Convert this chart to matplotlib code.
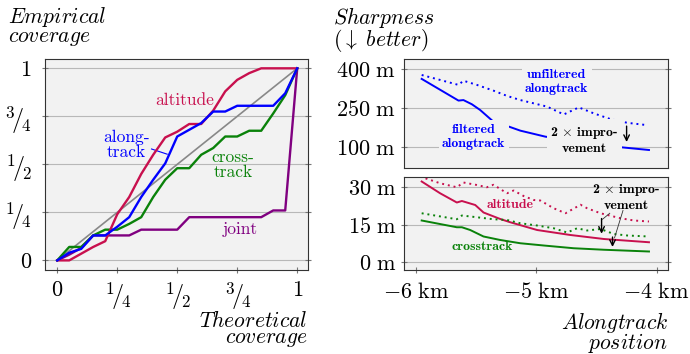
import numpy as np
import matplotlib
matplotlib.use('Agg')
import matplotlib.pyplot as plt

plt.rcParams['mathtext.fontset'] = 'cm'
plt.rcParams['font.family'] = ['cmr10', 'DejaVu Serif']
plt.rcParams['axes.unicode_minus'] = False

# ---- calibration data (left) ----
theo = np.round(np.arange(0, 1.0001, 0.05), 2)
cov_altitude = [0, 0, 0.035, 0.07, 0.10, 0.24, 0.33, 0.45, 0.55, 0.64, 0.67,
                0.71, 0.71, 0.78, 0.88, 0.94, 0.975, 1, 1, 1, 1]
cov_along = [0, 0.04, 0.06, 0.13, 0.13, 0.175, 0.225, 0.33, 0.42, 0.505, 0.645,
             0.68, 0.715, 0.775, 0.775, 0.805, 0.805, 0.805, 0.805, 0.87, 1]
cov_cross = [0, 0.07, 0.07, 0.13, 0.16, 0.16, 0.19, 0.225, 0.33, 0.42, 0.48,
             0.48, 0.55, 0.585, 0.645, 0.645, 0.675, 0.675, 0.765, 0.86, 1]
cov_joint = [0, 0.03, 0.065, 0.13, 0.13, 0.13, 0.13, 0.16, 0.16, 0.16, 0.16,
             0.225, 0.225, 0.225, 0.225, 0.225, 0.225, 0.225, 0.26, 0.26, 1]
frac_ticks = [0, 0.25, 0.5, 0.75, 1]
frac_labels = ['$0$', r'${}^{1}\!/\!{}_{4}$', r'${}^{1}\!/\!{}_{2}$',
               r'${}^{3}\!/\!{}_{4}$', '$1$']

# ---- sharpness, along-track (top right) ----
x_unf_along = [-5.953, -5.647, -5.606, -5.494, -5.356, -5.244, -5.133, -4.911,
               -4.772, -4.647, -4.522, -4.383, -4.244, -4.078]
y_unf_along = [377, 339, 355, 339, 317, 297, 281, 256, 226, 253, 230, 208, 194, 185]
x_fil_along = [-5.953, -5.647, -5.606, -5.536, -5.467, -5.356, -5.244, -5.133,
               -4.925, -4.717, -4.494, -4.286, -4.064]
y_fil_along = [362, 279, 281, 265, 243, 198, 182, 164, 141, 128, 113, 100, 90]

# ---- sharpness, altitude & crosstrack (bottom right) ----
x_unf_alt = [-5.967, -5.800, -5.661, -5.606, -5.494, -5.411, -5.356, -5.244,
             -5.189, -5.106, -5.022, -4.967, -4.856, -4.758, -4.633, -4.578,
             -4.467, -4.300, -4.189, -4.064]
y_unf_alt = [34.3, 31.6, 30.0, 31.9, 30.9, 30.0, 31.0, 27.6, 28.7, 26.5, 24.9,
             24.7, 21.6, 19.6, 23.0, 21.6, 19.6, 17.6, 16.7, 16.3]
x_fil_alt = [-5.953, -5.800, -5.661, -5.619, -5.508, -5.439, -5.300, -5.217,
             -4.994, -4.717, -4.439, -4.064]
y_fil_alt = [32.3, 27.6, 23.9, 24.5, 22.9, 19.9, 17.3, 16.0, 12.9, 10.9, 9.3, 8.0]
x_unf_cross = [-5.953, -5.661, -5.619, -5.494, -5.356, -5.244, -5.133, -4.994,
               -4.856, -4.744, -4.661, -4.578, -4.467, -4.356, -4.244, -4.064]
y_unf_cross = [19.6, 17.2, 18.7, 18.0, 17.2, 16.9, 15.6, 14.7, 13.6, 11.9, 13.6,
               12.7, 13.3, 11.3, 10.7, 10.3]
x_fil_cross = [-5.953, -5.661, -5.619, -5.550, -5.439, -5.300, -5.133, -4.939,
               -4.689, -4.439, -4.064]
y_fil_cross = [16.7, 14.0, 14.0, 12.9, 10.3, 8.9, 7.6, 6.7, 5.6, 5.0, 4.3]

km_ticks = [-6, -5, -4]
km_labels = [r'$-6\ \mathrm{km}$', r'$-5\ \mathrm{km}$', r'$-4\ \mathrm{km}$']
top_ticks = [100, 250, 400]
bot_ticks = [0, 15, 30]

RED = '#c8104e'
BLUE = '#0000ff'
GREEN = '#0a820a'
PURPLE = '#800080'
BG = '#f2f2f2'
TICK_FS = 16
LAB_FS = 10
IMPROVE = '2' + r'$\,\times\,$' + 'impro-\nvement'


def style_ax(ax):
    ax.set_facecolor(BG)
    ax.grid(True, axis='y', color='#b8b8b8', lw=0.8)
    ax.set_axisbelow(True)
    for s in ax.spines.values():
        s.set_color('#333333')
        s.set_linewidth(0.8)
    ax.tick_params(direction='inout', length=5, color='#777777', labelsize=TICK_FS,
                   right=True, pad=3)


fig = plt.figure(figsize=(6.9, 3.54), dpi=100)

# ---------------- left panel ----------------
ax = fig.add_axes([0.0652, 0.2373, 0.3812, 0.5952])
style_ax(ax)
ax.plot([0, 1], [0, 1], color='#888888', lw=1.2, zorder=2)
ax.plot(theo, cov_joint, color=PURPLE, lw=1.7, zorder=3)
ax.plot(theo, cov_cross, color=GREEN, lw=1.7, zorder=3)
ax.plot(theo, cov_along, color=BLUE, lw=1.7, zorder=4)
ax.plot(theo, cov_altitude, color=RED, lw=1.7, zorder=3)
ax.set_xlim(-0.051, 1.045)
ax.set_ylim(-0.05, 1.047)
ax.set_xticks(frac_ticks)
ax.set_xticklabels(frac_labels)
ax.set_yticks(frac_ticks)
ax.set_yticklabels(frac_labels)
for lab in ax.get_xticklabels()[1:4] + ax.get_yticklabels()[1:4]:
    lab.set_fontsize(17.5)
ax.tick_params(axis='y', pad=7)
ax.tick_params(axis='x', pad=5)
ax.text(0.532, 0.835, 'altitude', color=RED, fontsize=12.5, ha='center', va='center')
ax.text(0.289, 0.6, 'along-\ntrack', color=BLUE, fontsize=12.5, ha='center',
        va='center', linespacing=1.0)
ax.plot([0.393, 0.458], [0.58, 0.553], color=BLUE, lw=0.8)
ax.text(0.733, 0.496, 'cross-\ntrack', color=GREEN, fontsize=12.5, ha='center',
        va='center', linespacing=1.0)
ax.text(0.764, 0.161, 'joint', color=PURPLE, fontsize=12.5, ha='center', va='center')

fig.text(0.012, 0.985, r'$\mathit{Empirical}$' + '\n' + r'$\mathit{coverage}$',
         fontsize=15.5, ha='left', va='top', linespacing=0.8)
fig.text(0.446, 0.124, r'$\mathit{Theoretical}$' + '\n' + r'$\mathit{coverage}$',
         fontsize=15.5, ha='right', va='top', linespacing=0.78, multialignment='right')

# ---------------- right top ----------------
a1 = fig.add_axes([0.5855, 0.5246, 0.3826, 0.3079])
style_ax(a1)
a1.plot(x_unf_along, y_unf_along, color=BLUE, lw=1.4, ls=(0, (1, 2)))
a1.plot(x_fil_along, y_fil_along, color=BLUE, lw=1.4)
a1.set_xlim(-6.1, -3.906)
a1.set_ylim(20, 437)
a1.set_yticks(top_ticks)
a1.set_yticklabels([r'$%d\ \mathrm{m}$' % v for v in top_ticks])
a1.set_xticks([])
bb = dict(facecolor=BG, edgecolor='none', pad=2.5)
a1.text(-4.83, 351, 'unfiltered\nalongtrack', color=BLUE, fontsize=LAB_FS,
        family='cmb10', ha='center', va='center', linespacing=1.25, bbox=bb, zorder=5)
a1.text(-5.52, 140, 'filtered\nalongtrack', color=BLUE, fontsize=LAB_FS,
        family='cmb10', ha='center', va='center', linespacing=1.25, bbox=bb, zorder=5)
a1.text(-4.6, 128, IMPROVE, color='black', fontsize=LAB_FS,
        family='cmb10', ha='center', va='center', linespacing=1.25, bbox=bb, zorder=5)
a1.annotate('', xy=(-4.25, 110), xytext=(-4.25, 192),
            arrowprops=dict(arrowstyle='->', color='black', lw=1.0))

# ---------------- right bottom ----------------
a2 = fig.add_axes([0.5855, 0.2373, 0.3826, 0.2641])
style_ax(a2)
a2.plot(x_unf_alt, y_unf_alt, color=RED, lw=1.4, ls=(0, (1, 2)))
a2.plot(x_fil_alt, y_fil_alt, color=RED, lw=1.4)
a2.plot(x_unf_cross, y_unf_cross, color=GREEN, lw=1.4, ls=(0, (1, 2)))
a2.plot(x_fil_cross, y_fil_cross, color=GREEN, lw=1.4)
a2.set_xlim(-6.1, -3.906)
a2.set_ylim(-3.1, 34.3)
a2.set_yticks(bot_ticks)
a2.set_yticklabels([r'$%d\ \mathrm{m}$' % v for v in bot_ticks])
a2.set_xticks(km_ticks)
a2.set_xticklabels(km_labels)
a2.tick_params(axis='x', pad=6)
a2.text(-5.217, 22.9, 'altitude', color=RED, fontsize=LAB_FS, family='cmb10',
        ha='center', va='center')
a2.text(-5.45, 6.0, 'crosstrack', color=GREEN, fontsize=LAB_FS, family='cmb10',
        ha='center', va='center')
a2.text(-4.25, 26.2, IMPROVE, color='black', fontsize=LAB_FS,
        family='cmb10', ha='center', va='center', linespacing=1.25)
a2.annotate('', xy=(-4.458, 10.3), xytext=(-4.458, 18.6),
            arrowprops=dict(arrowstyle='->', color='black', lw=1.0))
a2.annotate('', xy=(-4.367, 5.0), xytext=(-4.367, 11.2),
            arrowprops=dict(arrowstyle='->', color='black', lw=1.0))
a2.plot([-4.39, -4.45], [19.6, 17.2], color='#333333', lw=0.6)
a2.plot([-4.28, -4.35], [20.7, 9.8], color='#333333', lw=0.6)

fig.text(0.483, 0.985, r'$\mathit{Sharpness}$' + '\n' + r'$(\downarrow\ \mathit{better})$',
         fontsize=15.5, ha='left', va='top', linespacing=0.8)
fig.text(0.968, 0.124, r'$\mathit{Alongtrack}$' + '\n' + r'$\mathit{position}$',
         fontsize=15.5, ha='right', va='top', linespacing=0.78, multialignment='right')

fig.savefig('out.png', dpi=100)
